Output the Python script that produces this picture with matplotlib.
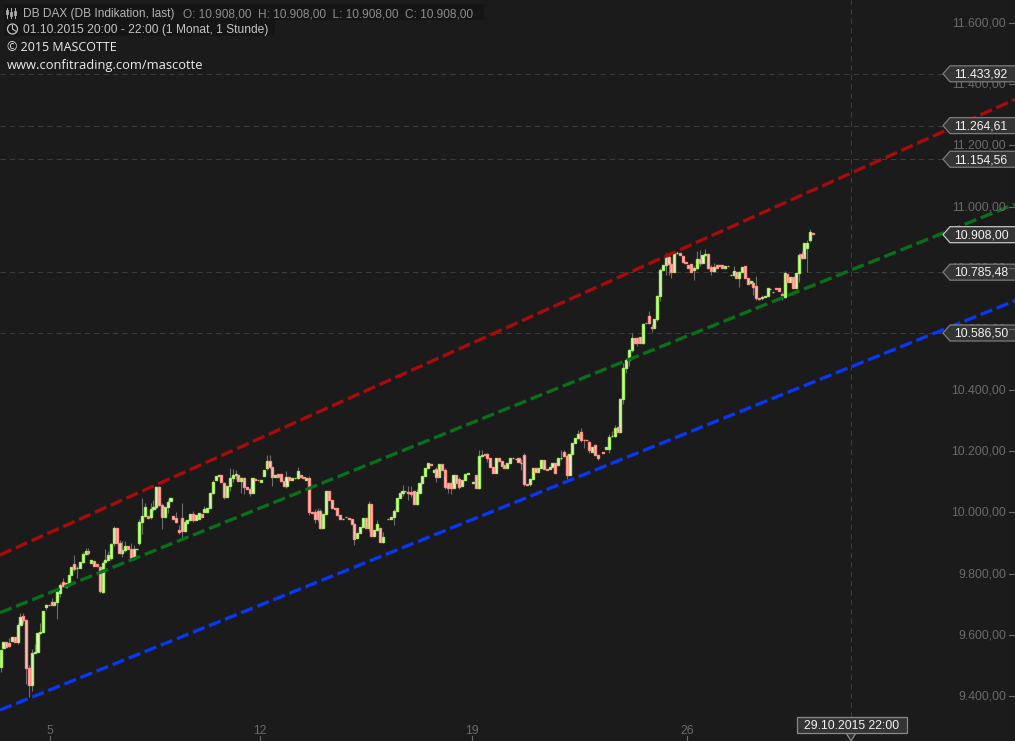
import numpy as np
import matplotlib
matplotlib.use("Agg")
import matplotlib.pyplot as plt
from matplotlib.patches import Polygon, Rectangle, Circle
from matplotlib.lines import Line2D
from matplotlib.transforms import IdentityTransform

opens = [9496,9558,9575,9572,9579,9594,9577,9632,9661,9648,9493,9436,9542,9545,9605,
 9608,9692,9699,9708,9699,9708,9735,9774,9757,9763,9795,9833,9817,9817,9839,
 9864,9875,9836,9841,9833,9820,9741,9839,9845,9850,9899,9950,9899,9869,9877,
 9890,9882,9850,9880,9901,9970,9988,9988,9984,10010,10017,10082,10024,9986,10019,
 10038,9988,9981,9942,9983,9940,9964,9975,9994,9975,9977,9996,10001,10002,10013,
 10065,10105,10119,10124,10095,10051,10087,10111,10124,10124,10103,10111,10084,10075,10064,
 10108,10107,10100,10120,10144,10168,10147,10116,10127,10127,10102,10087,10116,10106,10111,
 10113,10122,10116,10106,10114,10000,10002,10005,10005,9948,9995,10070,10040,10013,10015,
 9991,9978,9986,9983,9980,9962,9915,9934,9953,9983,9948,10029,9924,9942,9948,
 9904,None,9979,9978,9984,10005,10046,10062,10070,10067,10068,10070,10027,10064,10095,
 10119,10144,10157,10131,10141,10117,10157,10138,10095,10095,10079,10124,10108,10086,10106,
 10127,None,10097,10124,10079,10185,10190,10190,10179,10149,10128,10179,10168,10155,10146,
 10160,10179,10174,10177,10162,10188,10092,10092,10108,10146,10133,10144,10171,10141,10141,
 10149,10162,10155,10177,10196,10184,10122,10190,10226,10242,10264,10237,10237,10231,10196,
 10220,10188,None,10198,10209,10209,10250,10250,10278,10264,10370,10471,10498,10531,10569,
 10569,10574,10555,10620,10642,10607,10604,10631,10707,10792,10809,10834,10811,10787,10847,
 10849,10838,10818,10809,10812,10792,10800,10827,10814,10842,10844,10803,10790,10809,10809,
 10809,10800,10806,10776,10776,10787,10768,10787,10806,10768,10749,10749,10740,10700,10700,
 10705,10707,10730,10722,10733,10733,10714,10705,10778,10752,10771,10733,10782,10844,10833,
 10863,10891,10912]

closes = [9550,9575,9561,9563,9594,9577,9632,9659,9648,9493,9436,9542,9545,9605,9610,
 9679,9699,9698,9699,9708,9739,9763,9759,9770,9795,9820,9814,9819,9839,9864,
 9874,9866,9843,9825,9825,9744,9836,9845,9860,9896,9950,9899,9869,9877,9890,
 9882,9850,9880,9882,9970,9988,10019,9981,10010,10017,10082,10024,9986,10017,10035,
 10046,9977,9970,9937,9940,9970,9975,9994,9975,9992,9997,9984,10010,10013,10065,
 10098,10119,10122,10100,10051,10087,10111,10124,10126,10103,10111,10084,10075,10064,10114,
 10107,10106,10105,10138,10168,10147,10116,10124,10116,10102,10087,10116,10106,10111,10113,
 10135,10116,10114,10114,10000,9999,9980,9978,9948,9995,10070,10040,10013,10011,9991,
 9978,9980,9985,9978,9962,9913,9934,9953,9983,9948,10029,9924,9942,9962,9904,
 9920,None,9978,9984,10005,10046,10062,10070,10069,10064,10060,10027,10068,10095,10119,
 10144,10160,10155,10139,10117,10157,10138,10084,10079,10079,10124,10095,10084,10106,10125,
 10128,None,10098,10079,10185,10188,10188,10179,10149,10128,10179,10168,10151,10146,10160,
 10177,10178,10175,10166,10163,10092,10090,10108,10146,10133,10144,10171,10141,10140,10149,
 10162,10128,10177,10179,10184,10122,10190,10226,10242,10258,10237,10236,10236,10204,10215,
 10188,10177,None,10195,10213,10248,10251,10275,10264,10370,10471,10498,10531,10569,10555,
 10555,10555,10616,10619,10620,10604,10631,10707,10792,10809,10834,10811,10787,10847,10849,
 10841,10818,10817,10798,10787,10800,10827,10814,10842,10844,10800,10790,10803,10800,10804,
 10798,10806,10805,10777,10790,10768,10787,10803,10765,10746,10757,10738,10700,10699,10705,
 10706,10733,10731,10721,10732,10724,10711,10782,10752,10771,10733,10782,10842,10833,10880,
 10882,10916,10909]

wick_bars = [0,3,6,7,8,9,10,11,12,14,16,18,20,21,22,26,27,29,30,31,35,36,37,38,39,40,42,43,44,46,47,49,50,51,53,54,55,56,57,59,
 62,63,64,65,68,72,75,79,81,82,83,85,86,88,94,95,96,101,105,109,111,112,113,125,130,133,135,139,142,144,145,147,154,157,158,159,162,
 169,170,172,184,185,187,198,199,200,204,205,206,208,211,215,216,217,219,220,221,222,223,225,227,229,230,232,233,235,236,237,239,
 245,246,247,249,250,251,252,259,261,266,267,268,269,276,277,282,283,285,286]
wick_highs = [9555,9590,9640,9670,9672,9650,9500,9555,9570,9640,9700,9720,9745,9770,9785,9860,9825,9870,9885,9885,9825,9840,9880,9875,9900,9955,9910,9905,9905,9900,9895,9980,10046,10030,10030,10040,10085,10085,10030,10040,
 10000,9958,10030,9975,10005,10020,10105,10100,10145,10143,10140,10115,10115,10080,10187,10187,10150,10135,10148,10120,10010,10015,10010,9965,10037,9975,9935,10010,10090,10085,10085,10075,10150,10145,10100,10100,10115,
 10205,10205,10195,10175,10195,10112,10205,10205,10190,10270,10275,10240,10235,10190,10255,10265,10285,10375,10490,10505,10535,10585,10575,10620,10660,10615,10710,10800,10848,10840,10815,10856,
 10805,10855,10857,10862,10848,10808,10815,10805,10790,10755,10773,10702,10712,10720,10790,10848,10855,10890,10925]
wick_lows = [9480,9560,9570,9632,9640,9440,9398,9415,9540,9603,9680,9700,9650,9725,9755,9810,9785,9835,9860,9862,9735,9735,9835,9840,9845,9890,9865,9855,9870,9845,9845,9895,9930,9985,9980,10005,10010,10020,9947,9998,
 9965,9930,9912,9935,9970,10000,10060,10045,10070,10100,10110,10065,10060,10055,10140,10143,10085,10080,10110,9990,9965,9970,9945,9892,9940,9938,9900,9960,10055,10040,10050,10025,10100,10075,10065,10060,10075,
 10075,10180,10165,10140,10085,10085,10170,10180,10110,10240,10230,10210,10195,10170,10195,10245,10245,10260,10355,10455,10480,10525,10545,10550,10615,10590,10625,10690,10775,10775,10765,10845,
 10760,10795,10805,10838,10795,10775,10785,10772,10738,10712,10695,10693,10695,10695,10700,10752,10830,10785,10885]

channel_ends_bar = [-0.24, 358.4]
red_channel = [9861, 11350]
green_channel = [9672, 11008]
blue_channel = [9354, 10692]

y_ticks = [11600,11400,11200,11000,10800,10600,10400,10200,10000,9800,9600,9400]
y_tick_labels = ["11.600,00","11.400,00","11.200,00","11.000,00","10.800,00","10.600,00",
                 "10.400,00","10.200,00","10.000,00","9.800,00","9.600,00","9.400,00"]
x_ticks = [17.5, 91.5, 166.5, 242.5]
x_tick_labels = ["5","12","19","26"]
level_values = [11433.92, 11264.61, 11154.56, 10785.48, 10586.50]
level_labels = ["11.433,92","11.264,61","11.154,56","10.785,48","10.586,50"]
last_value = 10908.00
last_label = "10.908,00"
cross_bar = 300.5
cross_label = "29.10.2015 22:00"

BG = "#1b1b1b"
W, H = 1015, 741
plt.rcParams['font.family'] = ['Liberation Sans', 'DejaVu Sans']
fig = plt.figure(figsize=(W/100, H/100), dpi=100, facecolor=BG)
ax = fig.add_axes([0, 0, 1, 1], facecolor=BG)
ax.set_xlim(-0.237, 358.43)
ax.set_ylim(9252.8, 11675.2)
ax.set_axis_off()

for v in level_values:
    ax.axhline(v, color="#3c3c3c", lw=0.75, ls=(0, (5, 4)), zorder=1)
ax.axvline(cross_bar, ymin=(H-717)/H, color="#3c3c3c", lw=0.75, ls=(0, (5, 4)), zorder=1)

o = np.array(opens, dtype=float)
c = np.array(closes, dtype=float)
x = np.arange(len(o))
ok = ~np.isnan(o)
up = ok & (c >= o)
dn = ok & (c < o)

ax.vlines(wick_bars, wick_lows, wick_highs, color="#6e6e6e", lw=0.8, zorder=2)
ax.bar(x[up], (c-o)[up], bottom=o[up], width=0.74, color="#eefbe0", edgecolor="#a4ee62", lw=1.0, zorder=3)
ax.bar(x[dn], (c-o)[dn], bottom=o[dn], width=0.74, color="#ffd8d2", edgecolor="#ff9088", lw=1.0, zorder=3)

for vals, col in ((red_channel, "#aa0a0a"), (green_channel, "#07701a"), (blue_channel, "#0a36f5")):
    ax.plot(channel_ends_bar, vals, color=col, lw=2.4, ls=(0, (3.75, 1.45)), dash_capstyle="butt", zorder=4)

tick_col = "#6a6a6a"
idt = IdentityTransform()
def px(xp, yp):
    return (xp, H - yp)
def add_line(xs, ys, col, lw=1.0, z=6):
    fig.add_artist(Line2D(xs, [H - y for y in ys], color=col, lw=lw, transform=idt, zorder=z))

def yp_of(v):
    return H - ax.transData.transform((0, v))[1]

for v, t in zip(y_ticks, y_tick_labels):
    yy = yp_of(v)
    ax.text(1006, H-yy+1, t, color=tick_col, fontsize=8.8, ha="right", va="center_baseline", transform=idt, zorder=5)
    add_line([1009, 1015], [yy, yy], tick_col, 0.8, 5)
for v, t in zip(x_ticks, x_tick_labels):
    xx = ax.transData.transform((v, 0))[0]
    ax.text(xx, H-730, t, color=tick_col, fontsize=8.8, ha="center", va="center_baseline", transform=idt, zorder=5)
    add_line([xx, xx], [736, 741], tick_col, 0.8, 5)

def tag(v, label, edge):
    yy = yp_of(v)
    pts = [px(1016, yy-8), px(950, yy-8), px(943, yy), px(950, yy+8), px(1016, yy+8)]
    ax.add_patch(Polygon(pts, closed=True, fc="#343434", ec=edge, lw=0.9, transform=idt, zorder=7))
    ax.text(954.5, H-yy+0.7, label, color="#f4f4f4", fontsize=8.8, ha="left", va="center_baseline", transform=idt, zorder=8)

for v, t in zip(level_values, level_labels):
    tag(v, t, "#7c7c7c")
tag(last_value, last_label, "#c4c4c4")

crossx = ax.transData.transform((cross_bar, 0))[0]
ax.add_patch(Polygon([px(846, 733), px(crossx, 741), px(856, 733)], closed=True, fc="#343434", ec="#8a8a8a", lw=0.9, transform=idt, zorder=7))
ax.add_patch(Rectangle(px(796.5, 733), 110, 16, fc="#343434", ec="#8a8a8a", lw=0.9, transform=idt, zorder=7))
ax.text(851.5, H-724.5, cross_label, color="#f4f4f4", fontsize=8.8, ha="center", va="center_baseline", transform=idt, zorder=8)

# Header
ax.add_patch(Rectangle(px(4, 20), 480, 16, fc="#151515", ec="none", transform=idt, zorder=6))
ax.add_patch(Rectangle(px(4, 36), 271, 16, fc="#151515", ec="none", transform=idt, zorder=6))
ax.text(23, H-13, "DB DAX (DB Indikation, last)", color="#b4b4b4", fontsize=8.55, va="center_baseline", transform=idt, zorder=8)
ax.text(183, H-13, "O: 10.908,00  H: 10.908,00  L: 10.908,00  C: 10.908,00", color="#8c8c8c", fontsize=8.6, va="center_baseline", transform=idt, zorder=8)
ax.text(23, H-29, "01.10.2015 20:00 - 22:00 (1 Monat, 1 Stunde)", color="#c4c4c4", fontsize=8.65, va="center_baseline", transform=idt, zorder=8)
ax.text(7, H-46, "\u00a9 2015 MASCOTTE", color="#ececec", fontsize=9.0, family=["Open Sans", "DejaVu Sans"], va="center_baseline", transform=idt, zorder=8)
ax.text(7, H-64, "www.confitrading.com/mascotte", color="#ececec", fontsize=9.3, family=["Open Sans", "DejaVu Sans"], va="center_baseline", transform=idt, zorder=8)
# header icons
for xi, (a, b, p, q) in zip((7, 11, 15), ((8, 18, 10, 14), (8, 18, 12, 16), (8, 18, 11, 15))):
    add_line([xi, xi], [a, b], "#b4b4b4", 0.7, 8)
    ax.add_patch(Rectangle(px(xi-1, q), 2, q-p, fc="#1b1b1b", ec="#b4b4b4", lw=0.6, transform=idt, zorder=9))
ax.add_patch(Circle(px(12.5, 29), 5, fc="none", ec="#c4c4c4", lw=0.9, transform=idt, zorder=8))
add_line([12.5, 12.5, 15.5], [25.5, 29, 31], "#c4c4c4", 0.8, 8)

fig.savefig("out.png", dpi=100, facecolor=BG)
